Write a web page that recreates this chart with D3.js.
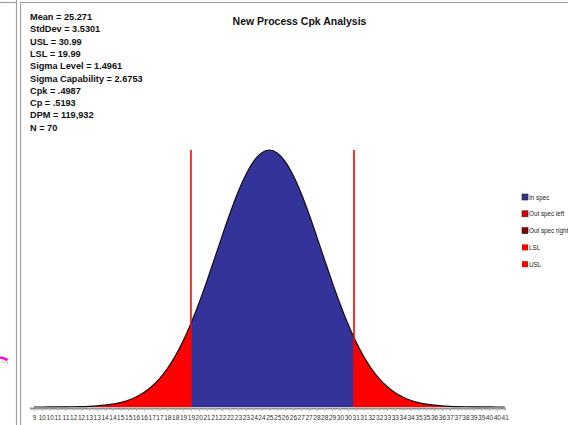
<!DOCTYPE html>
<html><head><meta charset="utf-8">
<script src="https://cdn.jsdelivr.net/npm/d3@7/dist/d3.min.js"></script>
<style>
html,body{margin:0;padding:0;background:#fff;overflow:hidden}
svg{display:block}
</style></head>
<body><svg id="c" width="568" height="425"></svg>
<script>
const title = "New Process Cpk Analysis";
const statLines = ["Mean = 25.271","StdDev = 3.5301","USL = 30.99","LSL = 19.99","Sigma Level = 1.4961","Sigma Capability = 2.6753","Cpk = .4987","Cp = .5193","DPM = 119,932","N = 70"];
const lsl = 19.99, usl = 30.99;
const xMin = 9.4, xMax = 41.16;
const tickLabels = ["9","10","10","11","11","12","12","13","13","14","14","15","15","16","16","17","17","18","18","19","19","20","21","21","22","22","23","23","24","24","25","25","26","26","27","27","28","28","29","30","30","31","31","32","32","33","33","34","34","35","35","36","36","37","37","38","39","39","40","40","41"];
const curveHeights = [0.00004,0.00008,0.00015,0.00027,0.0005,0.00088,0.0015,0.0026,0.0043,0.0070,0.0111,0.0172,0.0261,0.0387,0.0561,0.0796,0.1103,0.1494,0.1979,0.2563,0.3247,0.4020,0.4868,0.5762,0.6670,0.7548,0.8353,0.9037,0.9560,0.9888,1.0,0.9888,0.9560,0.9037,0.8353,0.7548,0.6670,0.5762,0.4868,0.4020,0.3247,0.2563,0.1979,0.1494,0.1103,0.0796,0.0561,0.0387,0.0261,0.0172,0.0111,0.0070,0.0043,0.0026,0.0015,0.00088,0.0005,0.00027,0.00015,0.00008,0.00004];
const legendItems = ["In spec","Out spec left","Out spec right","LSL","USL"];
const legendColors = ["#333399","#e00000","#8b0000","#ff0000","#ff0000"];

const svg = d3.select("#c");
const W = 568, H = 425;
const plot = {left:34, right:504.7, top:150, bottom:407};

// frame decorations
svg.append("line").attr("x1",16.5).attr("x2",16.5).attr("y1",0).attr("y2",H).attr("stroke","#a0a0a0").attr("stroke-width",1.2);
svg.append("line").attr("x1",20.5).attr("x2",20.5).attr("y1",2.5).attr("y2",H).attr("stroke","#a0a0a0").attr("stroke-width",1.2);
svg.append("line").attr("x1",20).attr("x2",W).attr("y1",2.5).attr("y2",2.5).attr("stroke","#a0a0a0").attr("stroke-width",1.2);
svg.append("line").attr("x1",0).attr("x2",16).attr("y1",2.5).attr("y2",2.5).attr("stroke","#a0a0a0").attr("stroke-width",1.2);
svg.append("path").attr("d","M0,357.5 Q4,358 7.5,360").attr("stroke","#ff00e0").attr("stroke-width",2.6).attr("fill","none");
svg.append("path").attr("d","M1,362 H7.5 V364.5").attr("stroke","#bbb").attr("stroke-width",0.8).attr("fill","none");

const x = d3.scaleLinear().domain([xMin, xMax]).range([plot.left, plot.right]);
const y = d3.scaleLinear().domain([0, 1]).range([plot.bottom, plot.top]);
const n = curveHeights.length;
const pts = curveHeights.map((h,i)=>({x: xMin + i*(xMax-xMin)/(n-1), h}));

const area = d3.area().x(d=>x(d.x)).y0(y(0)).y1(d=>y(d.h)).curve(d3.curveMonotoneX);
const line = d3.line().x(d=>x(d.x)).y(d=>y(d.h)).curve(d3.curveMonotoneX);

const defs = svg.append("defs");
defs.append("clipPath").attr("id","inspec").append("rect")
  .attr("x",x(lsl)).attr("width",x(usl)-x(lsl)).attr("y",0).attr("height",H);

svg.append("path").datum(pts).attr("d",area).attr("fill","#ff0000");
svg.append("path").datum(pts).attr("d",area).attr("fill","#333399").attr("clip-path","url(#inspec)");
svg.append("path").datum(pts).attr("d",line).attr("fill","none").attr("stroke","#111").attr("stroke-width",1.2);

// spec lines
[lsl, usl].forEach(v=>{
  svg.append("line").attr("x1",x(v)).attr("x2",x(v)).attr("y1",y(1)).attr("y2",y(0))
    .attr("stroke","#ff0000").attr("stroke-width",1.6);
});

// axis
const tickPos = tickLabels.map((t,i)=>xMin + i*(xMax-xMin)/(tickLabels.length-1));
const axis = d3.axisBottom(x).tickValues(tickPos).tickFormat((d,i)=>tickLabels[i]).tickSize(3).tickSizeOuter(0).tickPadding(4);
const ag = svg.append("g").attr("transform",`translate(0,${plot.bottom+1})`).call(axis);
ag.select(".domain").attr("stroke","#909090").attr("stroke-width",2).attr("d",`M${plot.left-4},0.5H${plot.right+1}`);
ag.selectAll(".tick line").attr("stroke","#b0b0b0");
ag.selectAll(".tick text").attr("font-family","Liberation Sans, Arial, sans-serif").attr("font-size",6.6).attr("fill","#333");

// title
svg.append("text").attr("x",299.5).attr("y",25).attr("text-anchor","middle")
  .attr("font-family","Liberation Sans, Arial, sans-serif").attr("font-weight","bold").attr("font-size",10.5).attr("fill","#111").text(title);

// stats
svg.append("g").selectAll("text").data(statLines).join("text")
  .attr("x",30).attr("y",(d,i)=>20 + i*12.3)
  .attr("font-family","Liberation Sans, Arial, sans-serif").attr("font-weight","bold").attr("font-size",9.2).attr("fill","#111")
  .text(d=>d);

// legend
const lg = svg.append("g").selectAll("g").data(legendItems).join("g")
  .attr("transform",(d,i)=>`translate(522,${197 + i*16.8})`);
lg.append("rect").attr("x",0).attr("y",-3).attr("width",6).attr("height",6)
  .attr("fill",(d,i)=>legendColors[i]).attr("stroke",(d,i)=>i<3?"#222":"none").attr("stroke-width",0.6);
lg.append("text").attr("x",7).attr("y",2.5).attr("font-family","Liberation Sans, Arial, sans-serif").attr("font-size",6.3).attr("fill","#222").text(d=>d);
</script>
</body></html>
